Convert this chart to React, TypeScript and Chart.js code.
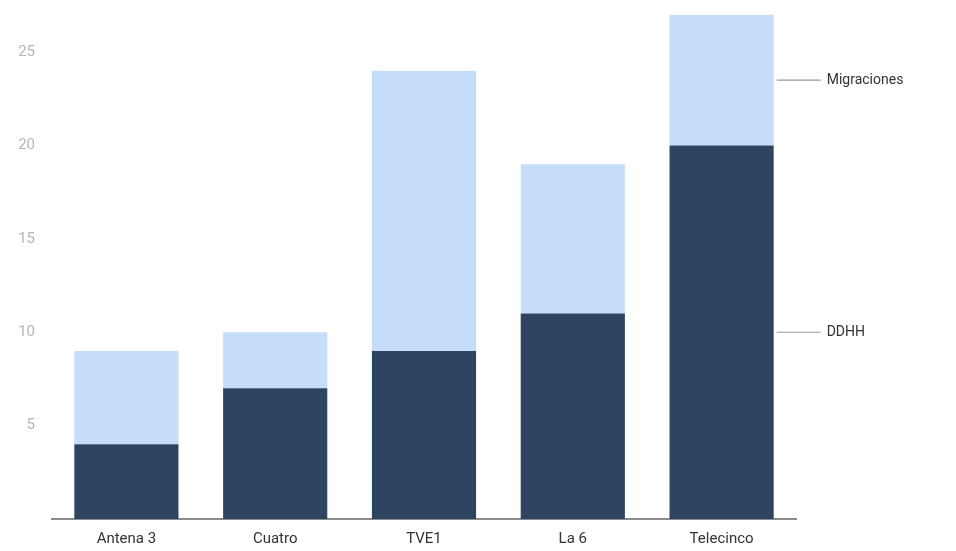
import React, { useEffect, useRef } from "react";
import { Chart, registerables } from "chart.js";

Chart.register(...registerables);

const categories = ["Antena 3", "Cuatro", "TVE1", "La 6", "Telecinco"];
const ddhh = [4, 7, 9, 11, 20];
const migraciones = [5, 3, 15, 8, 7];
const seriesNames = ["DDHH", "Migraciones"];
const yTicks = [5, 10, 15, 20, 25];

const endLabels = {
  id: "endLabels",
  afterDatasetsDraw(chart: any) {
    const ctx = chart.ctx;
    ctx.save();
    chart.data.datasets.forEach((ds: any, i: number) => {
      const meta = chart.getDatasetMeta(i);
      const el = meta.data[meta.data.length - 1];
      if (!el) return;
      const props = el.getProps(["x", "y", "base", "width"], true);
      const midY = (props.y + props.base) / 2;
      const x0 = props.x + props.width / 2 + 3;
      ctx.strokeStyle = "#9a9a9a";
      ctx.lineWidth = 1.2;
      ctx.beginPath();
      ctx.moveTo(x0, midY);
      ctx.lineTo(x0 + 44, midY);
      ctx.stroke();
      ctx.fillStyle = "#333333";
      ctx.font = "14px Roboto";
      ctx.textAlign = "left";
      ctx.textBaseline = "middle";
      ctx.fillText(ds.label, x0 + 50, midY);
    });
    ctx.restore();
  },
};

export default function App() {
  const ref = useRef<HTMLCanvasElement | null>(null);
  useEffect(() => {
    if (!ref.current) return;
    const chart = new Chart(ref.current, {
      type: "bar",
      data: {
        labels: categories,
        datasets: [
          {
            label: seriesNames[0],
            data: ddhh,
            backgroundColor: "#2e4461",
            categoryPercentage: 1,
            barPercentage: 0.7,
            clip: false,
          },
          {
            label: seriesNames[1],
            data: migraciones,
            backgroundColor: "#c6ddfa",
            categoryPercentage: 1,
            barPercentage: 0.7,
            clip: false,
          },
        ],
      },
      options: {
        animation: false,
        responsive: false,
        layout: { padding: { top: 0, right: 160, left: 0, bottom: 6 } },
        plugins: { legend: { display: false }, tooltip: { enabled: false } },
        scales: {
          x: {
            stacked: true,
            grid: { display: false },
            border: { display: true, color: "#8c8c8c", width: 2 },
            ticks: { color: "#333333", font: { family: "Roboto", size: 15 }, padding: 3 },
            afterFit: (scale: any) => {
              scale.height = 26;
            },
          },
          y: {
            stacked: true,
            min: 0,
            max: 26.83,
            grid: { display: false },
            border: { display: false },
            afterBuildTicks: (scale: any) => {
              scale.ticks = yTicks.map((v) => ({ value: v }));
            },
            afterFit: (scale: any) => {
              scale.width = 52;
            },
            ticks: { color: "#b5b5b5", font: { family: "Roboto", size: 15 }, padding: 9 },
          },
        },
      },
      plugins: [endLabels],
    });
    return () => chart.destroy();
  }, []);
  return (
    <div style={{ position: "absolute", left: 0, top: 0, width: 956, height: 551, background: "#fff" }}>
      <canvas ref={ref} width={956} height={551} style={{ width: 956, height: 551 }} />
    </div>
  );
}
